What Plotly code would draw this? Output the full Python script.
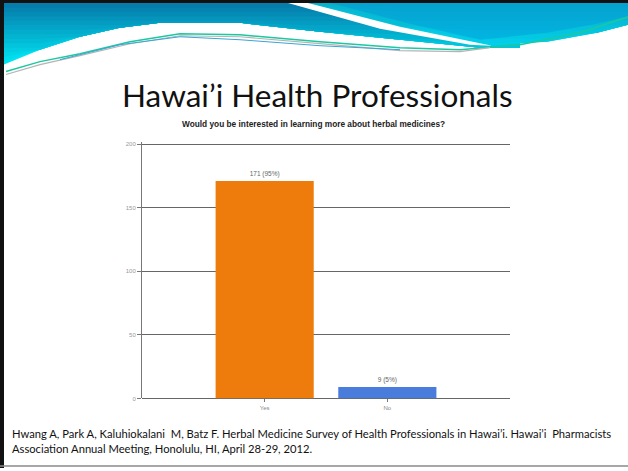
import plotly.graph_objects as go

# ---- data ----
categories = ["Yes", "No"]
counts = [171, 9]
bar_labels = ["171 (95%)", "9 (5%)"]
bar_colors = ["#EE7C0C", "#4A7CDC"]
y_ticks = [0, 50, 100, 150, 200]

W, H = 628, 471


def X(px):
    return px / W


def Y(py):
    return 1 - py / H


def path(points, close=True):
    s = "M {} {}".format(X(points[0][0]), Y(points[0][1]))
    for p in points[1:]:
        s += " L {} {}".format(X(p[0]), Y(p[1]))
    if close:
        s += " Z"
    return s


def mix(c1, c2, t):
    a = [int(c1[i:i + 2], 16) for i in (1, 3, 5)]
    b = [int(c2[i:i + 2], 16) for i in (1, 3, 5)]
    return "rgb({},{},{})".format(*[round(a[k] + (b[k] - a[k]) * t) for k in range(3)])


fig = go.Figure()
fig.add_trace(go.Bar(
    x=categories, y=counts, width=0.8,
    marker=dict(color=bar_colors, line=dict(width=0)),
    text=bar_labels, textposition="outside",
    textfont=dict(size=6.5, color="#666", family="Liberation Sans"),
    cliponaxis=False, showlegend=False,
))

shapes = []


def add_gradient_region(lower, top_color, bottom_color, y_top, y_bot, steps=14):
    for i in range(steps + 1):
        t = i / steps
        level = y_bot - (y_bot - y_top) * t
        pts = [(x, min(y, level)) for x, y in lower]
        poly = [(lower[0][0], 3)] + pts + [(lower[-1][0], 3)]
        shapes.append(dict(type="path", path=path(poly), xref="paper", yref="paper",
                           fillcolor=mix(bottom_color, top_color, t), line=dict(width=0),
                           layer="above"))


# left banner region
lower_left = [(4, 65), (40, 50), (80, 37), (120, 28), (160, 23), (240, 23), (320, 32), (400, 40),
              (480, 48), (520, 48)]
add_gradient_region(lower_left, "#0674A6", "#00E4F2", 3, 66)
# right banner region
lower_right = [(300, 3), (400, 27), (480, 47), (547, 42), (597, 33), (628, 25)]
add_gradient_region(lower_right, "#0AAAC4", "#02D0EA", 3, 48, steps=10)
shapes.append(dict(type="path",
                   path=path([(330, 3), (410, 24), (480, 40), (547, 33), (597, 24), (628, 16), (628, 3)]),
                   xref="paper", yref="paper", fillcolor="rgba(0,140,220,0.35)",
                   line=dict(width=0), layer="above"))
# white stripe
stripe = [(288, 3), (308, 3), (400, 27), (492, 46), (470, 45), (380, 29)]
shapes.append(dict(type="path", path=path(stripe), xref="paper", yref="paper",
                   fillcolor="white", line=dict(width=0), layer="above"))
# decorative lines
teal = [(6, 72), (40, 62), (80, 54), (130, 42), (180, 34), (240, 35), (320, 42), (400, 48),
        (460, 50), (520, 45), (580, 33), (628, 17)]
shapes.append(dict(type="path", path=path(teal, close=False), xref="paper", yref="paper",
                   line=dict(color="#1CC8A0", width=1.5), layer="above"))
gray = [(6, 75), (40, 65), (80, 56), (130, 44), (180, 36), (240, 37), (320, 44), (400, 51),
        (460, 52), (490, 48)]
shapes.append(dict(type="path", path=path(gray, close=False), xref="paper", yref="paper",
                   line=dict(color="#B4B4B4", width=1.2), layer="above"))
blue = [(60, 60), (120, 45), (180, 37), (240, 40), (320, 46), (400, 50)]
shapes.append(dict(type="path", path=path(blue, close=False), xref="paper", yref="paper",
                   line=dict(color="#3AA6D6", width=1), layer="above"))
# borders
shapes.append(dict(type="rect", x0=0, x1=1, y0=Y(3), y1=1, xref="paper", yref="paper",
                   fillcolor="#111", line=dict(width=0), layer="above"))
shapes.append(dict(type="rect", x0=0, x1=X(4), y0=0, y1=1, xref="paper", yref="paper",
                   fillcolor="#111", line=dict(width=0), layer="above"))
shapes.append(dict(type="line", x0=0, x1=1, y0=Y(469), y1=Y(469), xref="paper", yref="paper",
                   line=dict(color="#8A8A8A", width=1.5), layer="above"))

annotations = [
    dict(text="Hawai’i Health Professionals", x=X(317), y=Y(96), xref="paper", yref="paper",
         showarrow=False, xanchor="center", yanchor="middle",
         font=dict(family="Lato", size=31.5, color="#111")),
    dict(text="<b>Would you be interested in learning more about herbal medicines?</b>",
         x=X(313), y=Y(125), xref="paper", yref="paper", showarrow=False,
         xanchor="center", yanchor="middle",
         font=dict(family="Liberation Sans", size=8.3, color="#222")),
    dict(text="Hwang A, Park A, Kaluhiokalani  M, Batz F. Herbal Medicine Survey of Health Professionals in Hawai’i. Hawai’i  Pharmacists<br>Association Annual Meeting, Honolulu, HI, April 28-29, 2012.",
         x=X(10), y=Y(443.5), xref="paper", yref="paper", showarrow=False,
         xanchor="left", yanchor="middle", align="left",
         font=dict(family="Lato", size=11.2, color="#111")),
]

fig.update_layout(
    width=W, height=H, margin=dict(l=0, r=0, t=0, b=0),
    paper_bgcolor="white", plot_bgcolor="white",
    shapes=shapes, annotations=annotations, bargap=0.2,
    xaxis=dict(domain=[X(142), X(510)], range=[-1, 2], type="category",
               showgrid=False, showline=False, zeroline=False,
               ticks="outside", ticklen=3, tickcolor="#777",
               tickfont=dict(size=6, color="#888", family="Liberation Sans")),
    yaxis=dict(domain=[Y(401), Y(142.44)], range=[0, 202], tickvals=y_ticks,
               showgrid=True, gridcolor="#666", gridwidth=1,
               zeroline=True, zerolinecolor="#666", zerolinewidth=1,
               showline=True, linecolor="#777", linewidth=1,
               ticks="outside", ticklen=4, tickcolor="#777",
               tickfont=dict(size=6, color="#999", family="Liberation Sans")),
)

fig.write_html("out.html")
